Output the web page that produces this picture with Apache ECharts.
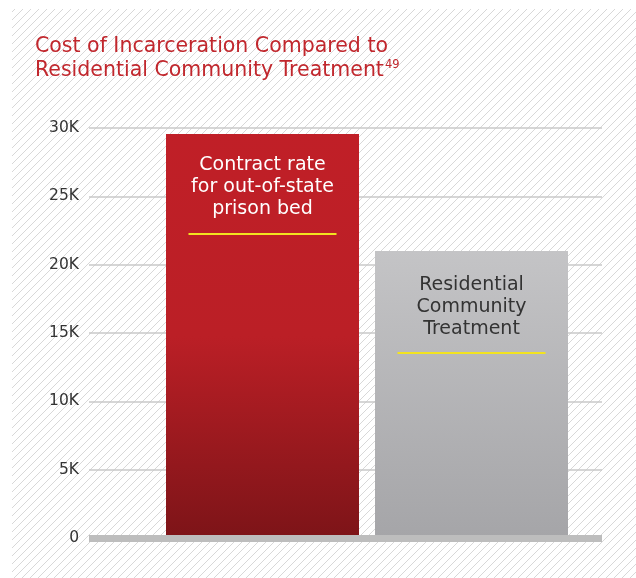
<!DOCTYPE html>
<html>
<head>
<meta charset="utf-8">
<script src="https://cdn.jsdelivr.net/npm/echarts@6/dist/echarts.min.js"></script>
<style>
  html, body { margin: 0; padding: 0; background: #ffffff; }
  #chart { width: 636px; height: 578px; }
</style>
</head>
<body>
<div id="chart"></div>
<script>
// ---- data ----
const titleLines = ['Cost of Incarceration Compared to', 'Residential Community Treatment'];
const titleNote = '49';
const categories = ['Contract rate\nfor out-of-state\nprison bed', 'Residential\nCommunity\nTreatment'];
const costValues = [29560, 21000];
const yTickValues = [0, 5000, 10000, 15000, 20000, 25000, 30000];
const yTickLabels = ['0', '5K', '10K', '15K', '20K', '25K', '30K'];

// ---- hatch pattern ----
function makeHatch() {
  const s = 8;
  const c = document.createElement('canvas');
  c.width = s; c.height = s;
  const g = c.getContext('2d');
  g.fillStyle = '#ffffff';
  g.fillRect(0, 0, s, s);
  g.strokeStyle = '#d8d8d8';
  g.lineWidth = 1;
  g.beginPath();
  g.moveTo(-1, s + 1); g.lineTo(s + 1, -1);
  g.moveTo(-1, 1); g.lineTo(1, -1);
  g.moveTo(s - 1, s + 1); g.lineTo(s + 1, s - 1);
  g.stroke();
  return c;
}

const chart = echarts.init(document.getElementById('chart'), null, { renderer: 'canvas' });

const FONT = 'DejaVu Sans';
const labelColors = ['#ffffff', '#333333'];
const labelDist = [20, 23];
const spacer = [13, 12];

const barData = costValues.map((v, i) => ({
  value: v,
  itemStyle: {
    color: i === 0
      ? new echarts.graphic.LinearGradient(0, 0, 0, 1, [
          { offset: 0, color: '#c01f27' },
          { offset: 0.5, color: '#bb1f26' },
          { offset: 1, color: '#7d1418' }
        ])
      : new echarts.graphic.LinearGradient(0, 0, 0, 1, [
          { offset: 0, color: '#c4c4c6' },
          { offset: 1, color: '#a5a5a8' }
        ])
  },
  label: {
    show: true,
    position: 'insideTop',
    distance: labelDist[i],
    formatter: () => categories[i].split('\n').map(t => '{t|' + t + '}').join('\n') + '\n{s|}\n{u|}',
    rich: {
      t: { color: labelColors[i], fontFamily: FONT, fontSize: 19, fontWeight: 'normal', lineHeight: 22, align: 'center' },
      s: { height: spacer[i], lineHeight: spacer[i], fontSize: 1 },
      u: { width: 148, height: 2, lineHeight: 2, backgroundColor: '#f2e320', fontSize: 1 }
    }
  }
}));

const option = {
  backgroundColor: '#ffffff',
  animation: false,
  graphic: [
    {
      type: 'rect', z: -10, silent: true,
      shape: { x: 12, y: 9, width: 624, height: 569 },
      style: { fill: { image: makeHatch(), repeat: 'repeat' } }
    }
  ],
  title: {
    left: 35, top: 35, padding: 0,
    text: '{a|' + titleLines[0] + '}\n{a|' + titleLines[1] + '}{sup|' + titleNote + '}',
    textStyle: {
      fontWeight: 'normal',
      rich: {
        a: { color: '#c1272d', fontFamily: FONT, fontSize: 20.5, fontWeight: 'normal', lineHeight: 24 },
        sup: { color: '#c1272d', fontFamily: FONT, fontSize: 11.5, fontWeight: 'normal', lineHeight: 24, verticalAlign: 'top', padding: [0, 0, 8, 1] }
      }
    }
  },
  grid: [
    { left: 89, right: 34, top: 128, bottom: 40 },
    { left: 158, width: 418, top: 128, bottom: 40 }
  ],
  xAxis: [
    {
      gridIndex: 0, type: 'category', data: [''], z: 10,
      axisLine: { show: true, lineStyle: { color: '#bdbdbd', width: 7, cap: 'butt' } },
      axisTick: { show: false }, axisLabel: { show: false }
    },
    {
      gridIndex: 1, type: 'category', data: categories,
      axisLine: { show: false }, axisTick: { show: false }, axisLabel: { show: false }
    }
  ],
  yAxis: [
    {
      gridIndex: 0, type: 'value', min: 0, max: 30000, interval: 5000,
      axisLine: { show: false }, axisTick: { show: false },
      axisLabel: {
        margin: 10, color: '#333333', fontFamily: FONT, fontSize: 15.5,
        formatter: v => yTickLabels[yTickValues.indexOf(v)]
      },
      splitLine: { lineStyle: { color: '#c8c8c8', width: 1.5 } }
    },
    {
      gridIndex: 1, type: 'value', min: 0, max: 30000, interval: 5000,
      axisLine: { show: false }, axisTick: { show: false },
      axisLabel: { show: false }, splitLine: { show: false }
    }
  ],
  series: [
    {
      type: 'bar', xAxisIndex: 1, yAxisIndex: 1,
      barWidth: 193,
      data: barData
    }
  ]
};

chart.setOption(option);
</script>
</body>
</html>
